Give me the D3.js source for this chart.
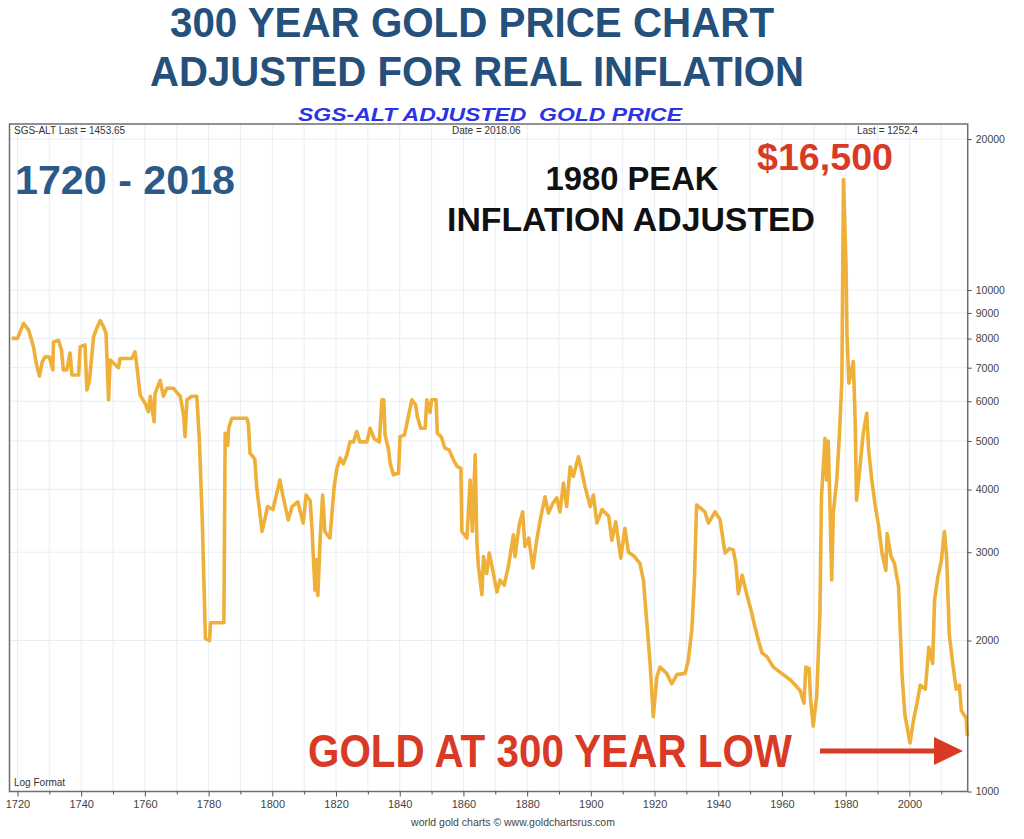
<!DOCTYPE html>
<html><head><meta charset="utf-8">
<script src="https://cdn.jsdelivr.net/npm/d3@7"></script>
<style>
html,body{margin:0;padding:0;background:#fff;}
svg{display:block;font-family:"Liberation Sans",Arial,Helvetica,sans-serif;}
</style></head>
<body>
<svg id="chart" width="1024" height="839"></svg>
<script>
const years = [1718.2,1720.0,1721.9,1723.5,1725.0,1726.0,1726.9,1727.8,1728.7,1730.0,1731.1,1731.3,1732.9,1733.8,1734.4,1735.5,1736.5,1737.1,1739.2,1739.7,1741.2,1741.8,1742.6,1743.9,1744.9,1746.0,1747.0,1747.8,1748.6,1749.1,1751.7,1752.2,1755.9,1756.9,1757.5,1758.5,1760.1,1761.1,1761.7,1762.9,1763.2,1764.8,1765.8,1766.9,1769.0,1770.0,1771.1,1772.2,1772.6,1773.2,1774.7,1776.3,1777.1,1778.0,1779.0,1780.3,1780.6,1782.0,1784.8,1785.2,1786.0,1786.3,1787.3,1792.0,1792.5,1793.0,1794.5,1795.1,1795.6,1796.8,1798.5,1800.2,1802.4,1803.3,1805.0,1806.2,1808.0,1809.7,1810.6,1811.9,1812.5,1813.4,1814.0,1814.3,1815.0,1815.8,1816.5,1818.1,1819.4,1820.3,1821.3,1822.3,1823.4,1824.4,1825.5,1826.5,1827.5,1829.7,1830.7,1832.0,1833.6,1834.4,1835.0,1835.4,1836.5,1837.0,1838.0,1839.6,1840.1,1841.5,1842.7,1843.8,1845.0,1845.5,1846.6,1848.0,1848.5,1849.5,1850.0,1851.4,1851.8,1853.0,1854.2,1855.5,1856.9,1858.0,1859.2,1859.5,1861.1,1862.1,1862.8,1863.7,1864.2,1864.7,1865.8,1866.3,1867.3,1868.1,1869.5,1870.5,1871.5,1872.8,1874.1,1875.7,1876.2,1877.5,1878.6,1879.3,1880.5,1881.8,1883.0,1884.1,1885.6,1886.7,1888.0,1889.3,1890.3,1891.4,1892.4,1893.5,1894.5,1896.1,1897.0,1898.2,1899.8,1900.8,1901.9,1903.5,1905.6,1906.6,1907.8,1909.4,1910.7,1911.8,1913.5,1915.4,1916.5,1917.5,1918.6,1919.6,1920.7,1921.7,1923.8,1925.4,1927.0,1929.6,1930.6,1931.7,1932.5,1933.2,1935.8,1936.9,1939.0,1940.6,1942.1,1943.5,1944.7,1945.5,1946.3,1947.5,1948.9,1950.5,1951.5,1952.6,1953.7,1955.2,1957.3,1959.9,1962.6,1965.7,1966.9,1967.5,1968.5,1969.0,1969.8,1970.9,1971.9,1972.4,1973.5,1974.0,1974.5,1975.0,1975.6,1976.1,1977.2,1978.0,1978.8,1979.3,1980.1,1980.4,1981.0,1982.4,1983.0,1983.4,1984.4,1985.5,1986.6,1987.2,1988.2,1989.3,1990.3,1991.4,1992.6,1993.0,1994.2,1995.3,1996.6,1997.7,1998.6,2000.2,2001.3,2002.4,2003.4,2005.0,2006.1,2007.3,2007.9,2008.9,2010.0,2011.0,2011.7,2012.5,2013.6,2014.7,2015.7,2016.3,2017.8,2018.2];
const prices = [8010,8010,8580,8320,7710,7090,6740,7200,7360,7350,6930,7880,7930,7600,6930,6930,7490,6770,6770,7710,7770,6320,6600,8070,8390,8690,8450,8200,6040,7250,7000,7300,7300,7530,7040,6170,5940,5720,6140,5460,6220,6600,6140,6370,6370,6250,6140,5600,5100,6040,6140,6140,5020,3500,2020,2000,2170,2170,2170,5180,4900,5300,5550,5550,5400,4730,4600,4050,3810,3300,3700,3650,4180,3900,3480,3700,3780,3430,3900,3800,3300,2520,2900,2460,3170,3900,3300,3200,4050,4410,4620,4500,4690,4980,4980,5220,4980,4980,5300,5050,4980,6040,6040,5140,4800,4510,4280,4310,5100,5140,5590,6040,5900,5600,5300,5300,6040,5700,6040,6040,5180,5100,4840,4800,4580,4450,4410,3300,3200,4180,3300,4690,3170,2810,2470,2940,2720,2990,2700,2500,2640,2580,2810,3250,2940,3400,3610,3080,3200,2790,3170,3480,3870,3590,3750,3850,3610,4120,3700,4440,4250,4650,4400,4050,3700,3900,3430,3650,3540,3170,3450,2920,3350,3000,2950,2850,2640,2200,1800,1410,1690,1770,1720,1640,1710,1720,1830,2100,2640,3730,3610,3430,3610,3480,2990,3050,3030,2850,2480,2700,2480,2270,2130,2000,1890,1860,1770,1720,1670,1590,1500,1770,1760,1520,1350,1550,2270,3870,5060,4180,5000,3870,2640,3590,4180,5100,6600,16600,11200,8200,6520,7200,5400,3810,4380,5180,5680,4800,4180,3700,3400,2990,2760,3270,2950,2850,2560,1700,1420,1250,1390,1500,1630,1600,1940,1800,2410,2670,2880,3300,2930,2060,1800,1600,1630,1450,1400,1290];

const xTickYears = d3.range(1720, 2011, 10);
const xLabelYears = d3.range(1720, 2001, 20);
const yTickValues = [1000,2000,3000,4000,5000,6000,7000,8000,9000,10000,20000];

const titleLines = ["300 YEAR GOLD PRICE CHART", "ADJUSTED FOR REAL INFLATION"];
const subtitle = "SGS-ALT ADJUSTED  GOLD PRICE";
const headerLeft = "SGS-ALT Last = 1453.65";
const headerMid = "Date = 2018.06";
const headerRight = "Last = 1252.4";
const rangeLabel = "1720 - 2018";
const peakLabel = ["1980 PEAK", "INFLATION ADJUSTED"];
const peakValue = "$16,500";
const lowLabel = "GOLD AT 300 YEAR LOW";
const footer = "world gold charts \u00A9 www.goldchartsrus.com";

const svg = d3.select("#chart");
const L = 9.5, R = 967.7, T = 124, B = 791.5;
const x = d3.scaleLinear().domain([1717.5, 2018.3]).range([L, R]);
const y = d3.scaleLog().domain([1000, 21430]).range([B, T]);

// titles
const tc = "#26507c";
svg.append("text").attr("x", 472).attr("y", 37).attr("text-anchor","middle")
  .attr("font-size", 42).attr("font-weight","bold").attr("fill", tc)
  .attr("textLength", 604).attr("lengthAdjust","spacingAndGlyphs").text(titleLines[0]);
svg.append("text").attr("x", 477).attr("y", 86).attr("text-anchor","middle")
  .attr("font-size", 42).attr("font-weight","bold").attr("fill", tc)
  .attr("textLength", 654).attr("lengthAdjust","spacingAndGlyphs").text(titleLines[1]);
svg.append("text").attr("x", 490).attr("y", 121).attr("text-anchor","middle")
  .attr("font-size", 19).attr("font-weight","bold").attr("font-style","italic").attr("fill", "#2a33e6")
  .style("white-space","pre")
  .attr("textLength", 384).attr("lengthAdjust","spacingAndGlyphs").text(subtitle);

// grid
const g = svg.append("g");
g.selectAll("line.vg").data(xTickYears).join("line").attr("class","vg")
  .attr("x1", d=>x(d)).attr("x2", d=>x(d)).attr("y1", T).attr("y2", B)
  .attr("stroke", "#e9edf4").attr("stroke-width", 1);
g.selectAll("line.hg").data(yTickValues.filter(v=>v>1000)).join("line").attr("class","hg")
  .attr("x1", L).attr("x2", R).attr("y1", d=>y(d)).attr("y2", d=>y(d))
  .attr("stroke", "#e9edf4").attr("stroke-width", 1);

// price line
const pts = years.map((yr,i)=>({yr, v: prices[i]}));
svg.append("path").datum(pts)
  .attr("d", d3.line().x(d=>x(d.yr)).y(d=>y(d.v)))
  .attr("fill","none").attr("stroke","#efb03a").attr("stroke-width", 3.6)
  .attr("stroke-linejoin","round");

// frame
svg.append("rect").attr("x", L).attr("y", T).attr("width", R-L).attr("height", B-T)
  .attr("fill","none").attr("stroke","#6e6e6e").attr("stroke-width", 1.5);

// x axis
const xAxis = d3.axisBottom(x).tickValues(xTickYears).tickSize(5).tickPadding(4)
  .tickFormat(d => xLabelYears.includes(d) ? String(d) : "");
const gx = svg.append("g").attr("transform", `translate(0,${B})`).call(xAxis);
gx.select(".domain").remove();
gx.selectAll(".tick line").attr("stroke","#555").attr("y2", d => d % 20 === 0 ? 5 : 3);
gx.selectAll(".tick text").attr("font-size", 11).attr("fill","#444")
  .attr("font-family","\"Liberation Sans Narrow\",\"Liberation Sans\",Arial,sans-serif");

// y axis
const yAxis = d3.axisRight(y).tickValues(yTickValues).tickSize(4).tickPadding(4).tickFormat(d3.format("d"));
const gy = svg.append("g").attr("transform", `translate(${R},0)`).call(yAxis);
gy.select(".domain").remove();
gy.selectAll(".tick line").attr("stroke","#555");
gy.selectAll(".tick text").attr("font-size", 10.5).attr("fill","#444")
  .attr("font-family","\"Liberation Sans Narrow\",\"Liberation Sans\",Arial,sans-serif");

// header texts in frame
const small = {size: 10, fill: "#333"};
svg.append("text").attr("x", 14).attr("y", 134).attr("font-size", small.size).attr("fill", small.fill).text(headerLeft);
svg.append("text").attr("x", 452).attr("y", 134).attr("font-size", small.size).attr("fill", small.fill).text(headerMid);
svg.append("text").attr("x", 857).attr("y", 134).attr("font-size", small.size).attr("fill", small.fill).text(headerRight);
svg.append("text").attr("x", 14).attr("y", 786).attr("font-size", small.size).attr("fill", small.fill).text("Log Format");

// annotations
svg.append("text").attr("x", 15).attr("y", 194).attr("font-size", 40).attr("font-weight","bold")
  .attr("fill", "#2b5a88").attr("textLength", 220).attr("lengthAdjust","spacingAndGlyphs").text(rangeLabel);
svg.append("text").attr("x", 632).attr("y", 190).attr("text-anchor","middle").attr("font-size", 34).attr("font-weight","bold")
  .attr("fill", "#111").attr("textLength", 173).attr("lengthAdjust","spacingAndGlyphs").text(peakLabel[0]);
svg.append("text").attr("x", 631).attr("y", 231).attr("text-anchor","middle").attr("font-size", 34).attr("font-weight","bold")
  .attr("fill", "#111").attr("textLength", 368).attr("lengthAdjust","spacingAndGlyphs").text(peakLabel[1]);
svg.append("text").attr("x", 825).attr("y", 170).attr("text-anchor","middle").attr("font-size", 37).attr("font-weight","bold")
  .attr("fill", "#d83a26").attr("textLength", 136).attr("lengthAdjust","spacingAndGlyphs").text(peakValue);
svg.append("text").attr("x", 550).attr("y", 767).attr("text-anchor","middle").attr("font-size", 46).attr("font-weight","bold")
  .attr("fill", "#d83a26").attr("textLength", 484).attr("lengthAdjust","spacingAndGlyphs").text(lowLabel);

// arrow
svg.append("line").attr("x1", 820).attr("x2", 938).attr("y1", 751).attr("y2", 751)
  .attr("stroke", "#d83a26").attr("stroke-width", 5);
svg.append("path").attr("d", "M934,737 L963,751 L934,765 Z").attr("fill", "#d83a26");

// footer
svg.append("text").attr("x", 513).attr("y", 826).attr("text-anchor","middle").attr("font-size", 10.5).attr("fill","#444")
  .attr("font-family","\"Liberation Sans Narrow\",\"Liberation Sans\",Arial,sans-serif").text(footer);
</script>
</body></html>
